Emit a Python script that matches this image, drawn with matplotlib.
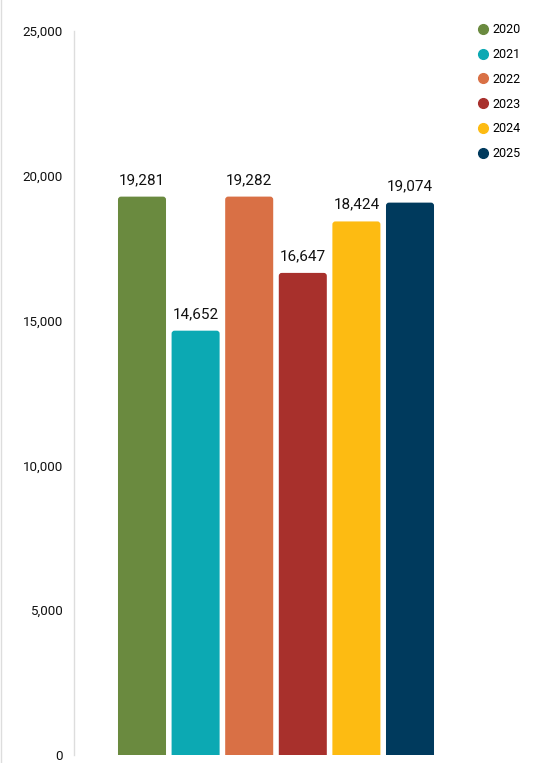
import matplotlib
matplotlib.use("Agg")
import matplotlib.pyplot as plt
from matplotlib.lines import Line2D
from matplotlib.patches import FancyBboxPatch

plt.rcParams['font.family'] = ['Roboto', 'DejaVu Sans']

years = ["2020", "2021", "2022", "2023", "2024", "2025"]
values = [19281, 14652, 19282, 16647, 18424, 19074]
colors = ["#6a8a3f", "#0ca9b3", "#d97045", "#a8302c", "#fdbb12", "#003a5d"]
yticks = [0, 5000, 10000, 15000, 20000, 25000]

W, H = 535, 763
fig = plt.figure(figsize=(W / 100, H / 100), dpi=100)
ax = fig.add_axes([74 / W, 8 / H, (460 - 74) / W, (755 - 31) / H])

x = list(range(len(years)))
bars = ax.bar(x, values, width=0.896, color=colors, edgecolor='none')

ax.set_xlim(-68 / 53.6, (460 - 142) / 53.6)
ax.set_ylim(0, 25000)

# rounded top corners (radius ~3 px)
rx = 3 / 53.6
ry = 3 * 25000 / 724
for b, c in zip(bars, colors):
    b.set_visible(False)
    p = FancyBboxPatch((b.get_x(), -ry * 2), b.get_width(), b.get_height() + ry * 2,
                       boxstyle=f"round,pad=0,rounding_size={rx}",
                       mutation_aspect=ry / rx, facecolor=c, edgecolor='none',
                       clip_on=True)
    ax.add_patch(p)

ax.set_yticks(yticks)
ax.set_yticklabels([f"{v:,}" for v in yticks], fontsize=9.6, color="#111111")
ax.tick_params(axis='y', length=0, pad=8)
ax.set_xticks([])
for s in ['top', 'right', 'bottom']:
    ax.spines[s].set_visible(False)
ax.spines['left'].set_color('#dddddd')
ax.spines['left'].set_linewidth(1)

for b, v in zip(bars, values):
    ax.annotate(f"{v:,}", (b.get_x() + b.get_width() / 2, v), xytext=(0, 7),
                textcoords='offset points', ha='center', va='bottom',
                fontsize=11, color="#111111")

handles = [Line2D([], [], marker='o', linestyle='none', markersize=7,
                  markerfacecolor=c, markeredgecolor=c) for c in colors]
fig.legend(handles, years, loc='upper left', bbox_to_anchor=(470 / W, 1 - 18 / H),
           frameon=False, fontsize=9, labelspacing=0.95, handletextpad=0.2,
           handlelength=1.2, borderaxespad=0)

fig.add_artist(Line2D([1.5 / W, 1.5 / W], [0, 1], color='#dddddd', linewidth=1,
                      transform=fig.transFigure))

fig.savefig("out.png", dpi=100)
